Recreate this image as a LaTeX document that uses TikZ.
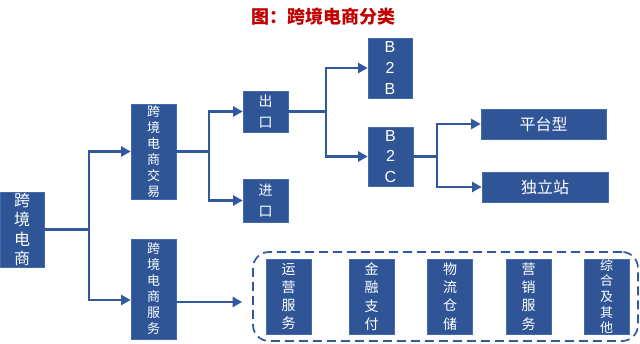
\documentclass[tikz,border=0pt]{standalone}
\usepackage{fontspec}
\usetikzlibrary{arrows.meta}
\newfontfamily\cjk{Noto Sans CJK SC}
\newfontfamily\latf{Liberation Sans}
\definecolor{boxblue}{RGB}{47,85,151}
\definecolor{boxedge}{RGB}{68,106,176}
\definecolor{lineblue}{RGB}{50,88,160}
\definecolor{titlered}{RGB}{192,0,0}
\tikzset{
  box/.style={rectangle, fill=boxblue, draw=boxedge, line width=0.6pt, inner sep=0pt},
  wt/.style={text=white, align=center, inner sep=0pt},
  conn/.style={draw=lineblue, line width=2.1pt, -{Triangle[length=9.5pt,width=10pt]}},
  dbox/.style={draw=lineblue, line width=1.7pt, dash pattern=on 9pt off 5pt, rounded corners=16pt, inner sep=0pt},
}
\begin{document}
\begin{tikzpicture}[x=1pt,y=-1pt]
\useasboundingbox (0,0) rectangle (640,344);
% title
\node[text=titlered, font=\cjk\bfseries\fontsize{18}{20}\selectfont, inner sep=0pt] (title) at (323,17) {图：跨境电商分类};
% main boxes
\node[box, minimum width=44pt, minimum height=75pt,
  label={[wt,font=\cjk\fontsize{16}{19.5}\selectfont]center:跨\\境\\电\\商}] (root) at (22,229.5) {};
\node[box, minimum width=45pt, minimum height=95pt,
  label={[wt,font=\cjk\fontsize{13}{16}\selectfont]center:跨\\境\\电\\商\\交\\易}] (trade) at (153.5,151.5) {};
\node[box, minimum width=45pt, minimum height=100pt,
  label={[wt,font=\cjk\fontsize{13}{16}\selectfont]center:跨\\境\\电\\商\\服\\务}] (serv) at (153.5,289) {};
\node[box, minimum width=45pt, minimum height=41pt,
  label={[wt,font=\cjk\fontsize{14}{21}\selectfont]center:出\\口}] (out) at (265.5,111.5) {};
\node[box, minimum width=45pt, minimum height=43pt,
  label={[wt,font=\cjk\fontsize{14}{21}\selectfont]center:进\\口}] (imp) at (265.5,200.5) {};
\node[box, minimum width=44pt, minimum height=60pt,
  label={[wt,font=\latf\fontsize{16}{20.5}\selectfont]center:B\\2\\B}] (b2b) at (390,68) {};
\node[box, minimum width=45pt, minimum height=59pt,
  label={[wt,font=\latf\fontsize{16}{20.5}\selectfont]center:B\\2\\C}] (b2c) at (390.5,156.5) {};
\node[box, minimum width=125pt, minimum height=30pt,
  label={[wt,font=\cjk\fontsize{16}{18}\selectfont]center:平台型}] (plat) at (543.5,124) {};
\node[box, minimum width=126pt, minimum height=30pt,
  label={[wt,font=\cjk\fontsize{16}{18}\selectfont]center:独立站}] (indep) at (545,187) {};
% dashed service container
\node[dbox, minimum width=385pt, minimum height=89pt] (cont) at (445.5,296.5) {};
\node[box, minimum width=45pt, minimum height=75pt,
  label={[wt,font=\cjk\fontsize{14}{18.3}\selectfont]center:运\\营\\服\\务}] (s1) at (288.5,296.5) {};
\node[box, minimum width=45pt, minimum height=75pt,
  label={[wt,font=\cjk\fontsize{14}{18.3}\selectfont]center:金\\融\\支\\付}] (s2) at (371.5,296.5) {};
\node[box, minimum width=45pt, minimum height=75pt,
  label={[wt,font=\cjk\fontsize{14}{18.3}\selectfont]center:物\\流\\仓\\储}] (s3) at (450,296.5) {};
\node[box, minimum width=45pt, minimum height=75pt,
  label={[wt,font=\cjk\fontsize{14}{18.3}\selectfont]center:营\\销\\服\\务}] (s4) at (528.5,296.5) {};
\node[box, minimum width=45pt, minimum height=75pt,
  label={[wt,font=\cjk\fontsize{13}{15.6}\selectfont]center:综\\合\\及\\其\\他}] (s5) at (606.5,296.5) {};
% junction points
\coordinate (j1) at (89,229.5);
\coordinate (j2) at (209,151.5);
\coordinate (j3) at (326,111.5);
\coordinate (j4) at (437,156.5);
% connectors
\draw[conn] (root.east) -- (j1) |- (trade.west);
\draw[conn] (root.east) -- (j1) |- ([yshift=-11pt]serv.west);
\draw[conn] (trade.east) -- (j2) |- (out.west);
\draw[conn] (trade.east) -- (j2) |- (imp.west);
\draw[conn] (out.east) -- (j3) |- (b2b.west);
\draw[conn] (out.east) -- (j3) |- (b2c.west);
\draw[conn] (b2c.east) -- (j4) |- (plat.west);
\draw[conn] (b2c.east) -- (j4) |- (indep.west);
\draw[conn, shorten >=10pt] ([yshift=-13pt]serv.east) -- ([yshift=-13pt]serv.east -| cont.west);
\end{tikzpicture}
\end{document}
